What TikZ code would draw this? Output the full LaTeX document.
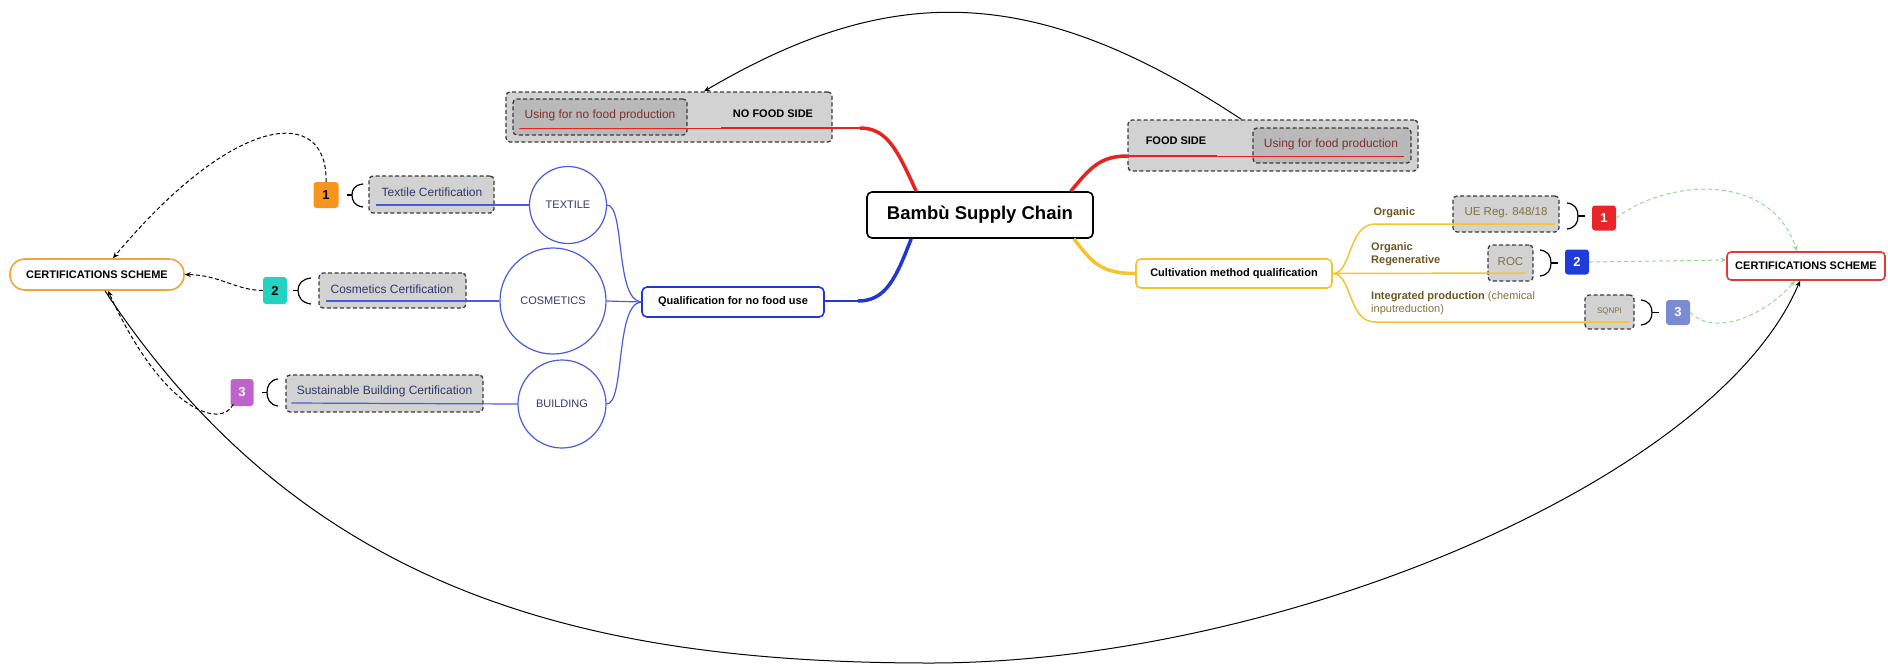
\documentclass[tikz,border=0pt]{standalone}
\usepackage{fontspec}
\setmainfont{Liberation Sans}
\usetikzlibrary{arrows.meta,calc}
\definecolor{redbr}{HTML}{E8231F}
\definecolor{bluebr}{HTML}{2236D4}
\definecolor{yelbr}{HTML}{F4C430}
\definecolor{thinblue}{HTML}{4A5BDB}
\definecolor{navy}{HTML}{2F3A6B}
\definecolor{olive}{HTML}{6B5722}
\definecolor{olivel}{HTML}{85703F}
\definecolor{darkred}{HTML}{7E3030}
\definecolor{grayA}{HTML}{D2D2D2}
\definecolor{grayB}{HTML}{B9B9B9}
\definecolor{dashgray}{HTML}{3A3A3A}
\definecolor{orangeb}{HTML}{F2A33A}
\definecolor{redb}{HTML}{E03A3A}
\definecolor{greenl}{HTML}{8FDB8F}
\definecolor{sqorange}{HTML}{F7941D}
\definecolor{sqteal}{HTML}{22D3C2}
\definecolor{sqpurple}{HTML}{C062CC}
\definecolor{sqred}{HTML}{E8262A}
\definecolor{sqblue}{HTML}{1E3CD8}
\definecolor{sqlav}{HTML}{7A8BD2}
\newcommand{\myfs}[1]{\fontsize{#1}{#1}\selectfont}
\begin{document}
\begin{tikzpicture}[x=1pt,y=-1pt,
  >={Stealth[length=6pt,width=5pt]},
  dbox/.style={draw=dashgray, dash pattern=on 4pt off 2.5pt, line width=1.3pt, rounded corners=4pt, fill=grayA, inner sep=0pt},
  ibox/.style={dbox, fill=grayB},
  sqbox/.style={rounded corners=3pt, inner sep=0pt, font=\myfs{13}\bfseries},
  circnode/.style={circle, draw=thinblue, line width=1.2pt, fill=white, inner sep=0pt, text=navy, font=\myfs{11}},
  mainbox/.style={rounded corners=5pt, line width=1.6pt, fill=white, inner sep=0pt, font=\myfs{11}\bfseries},
  certlbl/.style={font=\myfs{12}, text=navy},
  brk/.style={line width=1.2pt, black},
  blk/.style={black, line width=1pt, dash pattern=on 4pt off 2.5pt, ->},
  grn/.style={greenl, line width=1pt, dash pattern=on 4pt off 3pt, ->},
  thinb/.style={thinblue, line width=1.2pt},
  yl/.style={yelbr, line width=1.5pt}
]
\useasboundingbox (0,0) rectangle (1888,665);

% ---- NO FOOD / FOOD side boxes
\node[dbox, minimum width=326pt, minimum height=50pt] (nofood) at (669,117) {};
\node[ibox, minimum width=174pt, minimum height=36pt] (nofoodin) at (600,117) {};
\node[font=\myfs{12}, text=darkred] (nofoodtxt) at (600,115) {Using for no food production};
\node[font=\myfs{11}\bfseries] (nofoodlbl) at (773,114) {NO FOOD SIDE};

\node[dbox, minimum width=290pt, minimum height=51pt] (food) at (1273,145.5) {};
\node[ibox, minimum width=158pt, minimum height=35pt] (foodin) at (1332,145.5) {};
\node[font=\myfs{11}\bfseries] (foodlbl) at (1176,141) {FOOD SIDE};
\node[font=\myfs{12}, text=darkred] (foodtxt) at (1331,144) {Using for food production};

% ---- central
\node[mainbox, draw=black, minimum width=226pt, minimum height=46pt, font=\myfs{18.5}\bfseries] (central) at (980,215) {Bambù Supply Chain};

% ---- qualification boxes
\node[mainbox, draw=bluebr, minimum width=182pt, minimum height=30pt] (qual) at (733,302) {Qualification for no food use};
\node[mainbox, draw=yelbr, minimum width=196pt, minimum height=29pt] (cult) at (1234,273.5) {Cultivation method qualification};

% ---- certification schemes
\node[mainbox, draw=orangeb, rounded corners=15pt, minimum width=174pt, minimum height=31pt] (lcs) at (97,274.5) {CERTIFICATIONS SCHEME};
\node[mainbox, draw=redb, rounded corners=4pt, minimum width=158pt, minimum height=28pt] (rcs) at (1806,266) {CERTIFICATIONS SCHEME};

% ---- circles
\node[circnode, minimum size=77pt] (textile) at (568,205) {TEXTILE};
\node[circnode, minimum size=106pt] (cosm) at (553,301) {COSMETICS};
\node[circnode, minimum size=88pt] (build) at (562,404) {BUILDING};

% ---- left certification boxes
\node[dbox, minimum width=125pt, minimum height=37pt] (tcert) at (431.5,194.5) {};
\node[certlbl] (tcerttxt) at (432,192) {Textile Certification};
\node[dbox, minimum width=147pt, minimum height=35pt] (ccert) at (392.5,290.5) {};
\node[certlbl] (ccerttxt) at (392,289) {Cosmetics Certification};
\node[dbox, minimum width=197pt, minimum height=37pt] (bcert) at (384.5,393.5) {};
\node[certlbl] (bcerttxt) at (384.5,391) {Sustainable Building Certification};

% ---- left numbered squares
\node[sqbox, fill=sqorange, minimum width=25pt, minimum height=26pt] (l1) at (326,195) {1};
\node[sqbox, fill=sqteal, minimum width=24pt, minimum height=27pt] (l2) at (275,290.5) {2};
\node[sqbox, fill=sqpurple, text=white, minimum width=23pt, minimum height=27pt] (l3) at (242,392.5) {3};

% ---- right certification boxes
\node[dbox, minimum width=106pt, minimum height=36pt] (ue) at (1506,214) {};
\node[font=\myfs{11.5}, text=olivel] (uetxt) at (1506,213) {UE Reg. 848/18};
\node[dbox, minimum width=45pt, minimum height=36pt] (roc) at (1510.5,263) {};
\node[font=\myfs{11.5}, text=olivel] (roctxt) at (1510.5,262) {ROC};
\node[dbox, minimum width=49pt, minimum height=34pt] (sqnpi) at (1609.5,312) {};
\node[font=\myfs{8}, text=olivel] (sqnpitxt) at (1609.5,311) {SQNPI};

% ---- right numbered squares
\node[sqbox, fill=sqred, text=white, minimum width=24pt, minimum height=25pt] (r1) at (1604,218) {1};
\node[sqbox, fill=sqblue, text=white, minimum width=24pt, minimum height=25pt] (r2) at (1577,262) {2};
\node[sqbox, fill=sqlav, text=white, minimum width=24pt, minimum height=25pt] (r3) at (1678,312.5) {3};

% ---- yellow branch labels
\node[anchor=west, font=\myfs{11}\bfseries, text=olive] (orgtxt) at (1370,213) {Organic};
\node[anchor=north west, align=left, font=\myfs{11}\bfseries, text=olive, inner sep=0pt] (regtxt) at (1371,242) {Organic\\[2pt]Regenerative};
\node[anchor=north west, align=left, font=\myfs{11}, inner sep=0pt] (inttxt) at (1371,291) {\textcolor{olive}{\bfseries Integrated production} \textcolor{olivel}{(chemical}\\[2pt]\textcolor{olivel}{inputreduction)}};

% ================= connectors =================
% red, left
\coordinate (rl0) at ($(central.north west)+(50,0)$);
\coordinate (rl1) at (860,128);
\coordinate (rl2) at ($(nofoodin.east)+(33,11)$);
\coordinate (rl3) at ($(nofoodin.west)+(7,11)$);
\draw[redbr, line width=3.5pt] (rl0) .. controls (898,152) and (888,128) .. (rl1);
\draw[redbr, line width=2.2pt] (rl1) -- (rl2);
\draw[redbr, line width=1pt] (rl2) -- (rl3);
% red, right
\coordinate (rr0) at ($(central.north east)+(-23,0)$);
\coordinate (rr1) at (food.west |- 0,156);
\coordinate (rr2) at (1217,156);
\coordinate (rr3) at ($(foodin.east)+(-8,10.5)$);
\draw[redbr, line width=3.5pt] (rr0) .. controls (1090,168) and (1100,156) .. (rr1);
\draw[redbr, line width=2pt] (rr1) -- (rr2);
\draw[redbr, line width=1pt] (rr2) -- (rr3);
% blue
\coordinate (b0) at ($(central.south west)+(45,0)$);
\coordinate (b1) at (858,301);
\draw[bluebr, line width=3.5pt] (b0) .. controls (896,278) and (886,301) .. (b1);
\draw[bluebr, line width=2.5pt] (b1) -- (qual.east |- b1);
% yellow
\coordinate (y0) at ($(central.south east)+(-20,0)$);
\draw[yelbr, line width=3.5pt] (y0) .. controls (1092,262) and (1100,273.5) .. (cult.west);

% thin blue branches
\draw[thinb] (textile.east) .. controls (625,205) and (615,300) .. (qual.west);
\draw[thinb] (cosm.east) -- (qual.west);
\draw[thinb] (build.east) .. controls (625,404) and (615,304) .. (qual.west);
% underlines
\draw[thinb] ($(tcert.west)+(8,10.5)$) -- (textile.west);
\draw[thinb] ($(ccert.west)+(8,10.5)$) -- (cosm.west);
\draw[thinb] ($(bcert.west)+(6,9.5)$) -- (build.west);

% yellow thin branches
\draw[yl] (cult.east) .. controls (1352,273.5) and (1348,224) .. (1375,224) -- ($(ue.east)+(-5,10)$);
\draw[yl] (cult.east) -- ($(roc.east)+(-8,10)$);
\draw[yl] (cult.east) .. controls (1352,273.5) and (1348,322) .. (1375,322) -- ($(sqnpi.east)+(-6,10)$);

% brackets left
\draw[brk] (347,195) -- (352,195);
\draw[brk] (363,184) .. controls (354,185) and (352,190) .. (352,195) .. controls (352,200) and (354,206) .. (363,207);
\draw[brk] (293,290.5) -- (298,290.5);
\draw[brk] (311,278) .. controls (302,279) and (298,284) .. (298,290.5) .. controls (298,297) and (302,303) .. (311,304);
\draw[brk] (262,392.5) -- (267,392.5);
\draw[brk] (278,379) .. controls (270,380) and (267,386) .. (267,392.5) .. controls (267,399) and (270,405) .. (278,406);
% brackets right
\draw[brk] (1567,203) .. controls (1575,204) and (1578,209) .. (1578,216) .. controls (1578,223) and (1575,228) .. (1567,229);
\draw[brk] (1578,216) -- (1585,216);
\draw[brk] (1540,250) .. controls (1548,251) and (1551,256) .. (1551,263) .. controls (1551,270) and (1548,275) .. (1540,276);
\draw[brk] (1551,263) -- (1558,263);
\draw[brk] (1641,300) .. controls (1649,301) and (1652,306) .. (1652,312.5) .. controls (1652,319) and (1649,324) .. (1641,325);
\draw[brk] (1652,312.5) -- (1659,312.5);

% left dashed arrows
\draw[blk] (l1.north) .. controls (328,105) and (235,112) .. ($(lcs.north)+(16,0)$);
\draw[blk] (l2.west) .. controls (235,290) and (220,275) .. (lcs.east);
\draw[blk] ($(l3.south west)+(3,-2)$) .. controls (222,428) and (165,415) .. ($(lcs.south)+(11,0)$);

% right green dashed arrows
\draw[grn] (r1.east) .. controls (1665,180) and (1770,170) .. ($(rcs.north)+(-9,0)$);
\draw[grn] (r2.east) -- ($(rcs.west)+(0,-6)$);
\draw[grn] (r3.east) .. controls (1712,335) and (1760,320) .. ($(rcs.south)+(-11,0)$);

% big arcs
\coordinate (arcbot) at (930,663);
\draw[black, line width=1pt, ->] ($(food.north west)+(114,0)$) .. controls (1034,-18) and (890,-18) .. ($(nofood.north)+(35,0)$);
\draw[black, line width=1pt, ->] ($(lcs.south)+(8,0)$) .. controls (303,590) and (580,663) .. (arcbot) .. controls (1280,663) and (1716,480) .. ($(rcs.south)+(-6,0)$);
\end{tikzpicture}
\end{document}
